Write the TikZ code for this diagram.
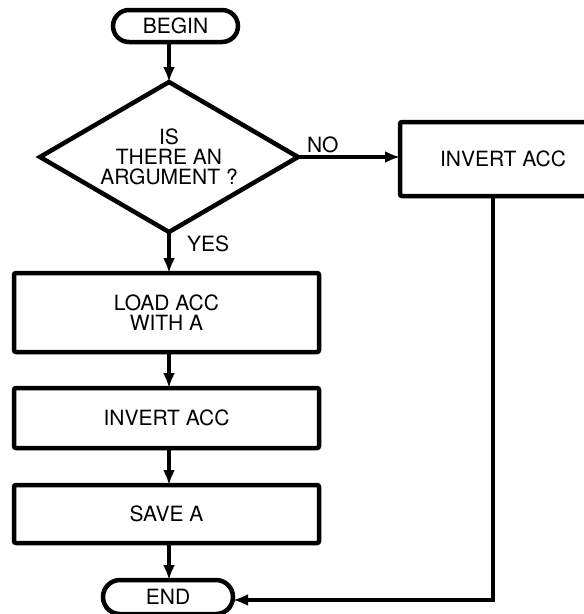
\documentclass[tikz,border=0pt]{standalone}
\usepackage{fontspec}
\setmainfont{TeX Gyre Heros}
\usetikzlibrary{arrows.meta,shapes.geometric}
\begin{document}
\begin{tikzpicture}[x=1pt,y=-1pt,
  every node/.style={font=\fontsize{21}{20}\selectfont, align=center, inner sep=0pt, outer sep=0pt},
  box/.style={draw, line width=4.5pt, rounded corners=2pt, minimum width=305pt},
  pill/.style={draw, line width=4.5pt},
  conn/.style={line width=3.5pt, -{Latex[length=15pt,width=12pt]}},
  lbl/.style={anchor=base west}]
\useasboundingbox (0,0) rectangle (584,614);
\clip (0,0) rectangle (584,614);
% nodes
\node[pill, rounded corners=16pt, minimum width=125pt, minimum height=32pt] (begin) at (175.5,26) {BEGIN};
\node[draw, diamond, line width=4.5pt, aspect=1.72, minimum width=258pt, minimum height=150pt] (dia) at (169,157) {IS\\THERE AN\\ARGUMENT ?};
\node[draw, line width=4.5pt, rounded corners=2pt, minimum width=206pt, minimum height=74pt] (inv1) at (503,159) {INVERT ACC};
\node[box, minimum height=79pt] (load) at (166.5,312.5) {LOAD ACC\\WITH A};
\node[box, minimum height=60pt] (inv2) at (166.5,418) {INVERT ACC};
\node[box, minimum height=58pt] (save) at (166.5,514) {SAVE A};
\node[pill, rounded corners=17pt, minimum width=130pt, minimum height=34pt] (end) at (168,597) {END};
\node[lbl] (no) at (307,152) {NO};
\node[lbl] (yes) at (187,251) {YES};
\coordinate (corner) at (493,600);
% connectors
\draw[conn] (begin.south -| dia.north) -- (dia.north);
\draw[conn] (dia.east) -- (dia.east -| inv1.west);
\draw[conn] (dia.south) -- (dia.south |- load.north);
\draw[conn] (dia.south |- load.south) -- (dia.south |- inv2.north);
\draw[conn] (dia.south |- inv2.south) -- (dia.south |- save.north);
\draw[conn] (dia.south |- save.south) -- (dia.south |- end.north);
\draw[conn] (inv1.south -| corner) -- (corner) -- (corner -| end.east);
\end{tikzpicture}
\end{document}
